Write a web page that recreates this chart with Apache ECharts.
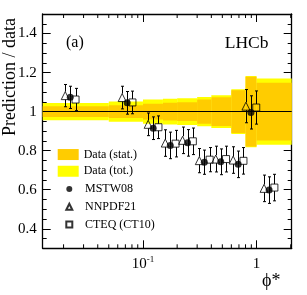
<!DOCTYPE html>
<html><head><meta charset="utf-8">
<script src="https://cdn.jsdelivr.net/npm/echarts@6/dist/echarts.min.js"></script>
<style>html,body{margin:0;padding:0;background:#fff}#c{width:307px;height:295px}</style>
</head><body><div id="c"></div>
<script>
// ---- data ----
const phiStar   = [0.0229, 0.0726, 0.123, 0.174, 0.247, 0.347, 0.484, 0.689, 0.893, 1.29];
const mstw08    = [1.073, 1.045, 0.915, 0.827, 0.840, 0.741, 0.743, 0.730, 0.996, 0.598];
const nnpdf21   = [1.082, 1.072, 0.935, 0.839, 0.853, 0.749, 0.757, 0.752, 1.028, 0.607];
const cteqCT10  = [1.062, 1.047, 0.920, 0.836, 0.848, 0.754, 0.757, 0.748, 1.021, 0.611];
const modelErr  = [0.057, 0.058, 0.058, 0.068, 0.068, 0.062, 0.066, 0.068, 0.085, 0.068];
const binEdges  = [0.0131, 0.05, 0.1, 0.15, 0.2, 0.3, 0.4, 0.6, 0.8, 1.0, 2.04];
const statErr   = [0.027, 0.033, 0.040, 0.045, 0.048, 0.062, 0.074, 0.110, 0.179, 0.148];
const totErr    = [0.044, 0.052, 0.062, 0.066, 0.068, 0.075, 0.084, 0.114, 0.182, 0.170];
const xMinorTicks = [0.02,0.03,0.04,0.05,0.06,0.07,0.08,0.09,0.2,0.3,0.4,0.5,0.6,0.7,0.8,0.9,2];
const xRange = [0.0131, 2.04];
const yRange = [0.3, 1.5];

const FONT = 'Liberation Serif';
const chart = echarts.init(document.getElementById('c'), null, {renderer:'canvas'});

function bandSeries(name, errs, color, z) {
  return {
    name, type:'custom', z, clip:true, silent:true,
    itemStyle:{color},
    encode:{x:[0,1], y:[2]},
    data: errs.map((e,i)=>[binEdges[i], binEdges[i+1], e]),
    renderItem(params, api){
      const p1 = api.coord([api.value(0), 1 + api.value(2)]);
      const p2 = api.coord([api.value(1), 1 - api.value(2)]);
      return {type:'rect', shape:{x:p1[0], y:p1[1], width:p2[0]-p1[0], height:p2[1]-p1[1]},
              style:{fill:color}};
    }
  };
}
function errSeries(name, vals, dx, gap) {
  return {
    name: name + ' err', type:'custom', z:6, silent:true,
    encode:{x:0, y:1},
    data: vals.map((v,i)=>[phiStar[i], v, modelErr[i]]),
    renderItem(params, api){
      const c = api.coord([api.value(0), api.value(1)]);
      const t = api.coord([api.value(0), api.value(1)+api.value(2)]);
      const b = api.coord([api.value(0), api.value(1)-api.value(2)]);
      const x = Math.round(c[0]+dx)+0.5;
      const st = {stroke:'#000', lineWidth:1};
      return {type:'group', children:[
        {type:'line', shape:{x1:x, y1:t[1], x2:x, y2:c[1]-gap}, style:st},
        {type:'line', shape:{x1:x, y1:c[1]+gap, x2:x, y2:b[1]}, style:st},
        {type:'line', shape:{x1:x-1.5, y1:t[1], x2:x+1.5, y2:t[1]}, style:st},
        {type:'line', shape:{x1:x-1.5, y1:b[1], x2:x+1.5, y2:b[1]}, style:st}
      ]};
    }
  };
}
function markerSeries(name, vals, symbol, size, dx, filled) {
  return {
    name, type:'scatter', z:7, silent:true,
    symbol, symbolSize:size, symbolOffset:[dx,0],
    itemStyle: filled ? {color:'#000'} : {color:'rgba(0,0,0,0)', borderColor:'#000', borderWidth:1},
    data: vals.map((v,i)=>[phiStar[i], v])
  };
}

const axisLine = {show:true, onZero:false, lineStyle:{color:'#000', width:1.3}};
const tickStyle = {color:'#000', width:1};

const option = {
  animation:false,
  grid:{left:42.7, right:15.3, top:14, bottom:46.7},
  xAxis:[{
    type:'log', logBase:10, min:xRange[0], max:xRange[1], position:'bottom',
    axisLine, splitLine:{show:false},
    axisTick:{show:true, inside:true, length:8, lineStyle:tickStyle},
    axisLabel:{
      margin:7, showMinLabel:false, showMaxLabel:false, color:'#000',
      formatter(v){
        const l = Math.log10(v);
        if (Math.abs(l) < 1e-6) return '{b|1}';
        if (Math.abs(l+1) < 1e-6) return '{b|10}{s|-1}';
        return '';
      },
      rich:{
        b:{fontFamily:FONT, fontSize:15, lineHeight:18, color:'#000'},
        s:{fontFamily:FONT, fontSize:9, lineHeight:18, verticalAlign:'top', color:'#000'}
      }
    }
  },{
    type:'log', logBase:10, min:xRange[0], max:xRange[1], position:'top',
    axisLine, splitLine:{show:false}, axisLabel:{show:false},
    axisTick:{show:true, inside:true, length:8, lineStyle:tickStyle}
  }],
  yAxis:[{
    type:'value', min:yRange[0], max:yRange[1], position:'left',
    axisLine, splitLine:{show:false},
    axisTick:{show:true, inside:true, length:8, lineStyle:tickStyle},
    minorTick:{show:true, splitNumber:4, length:4, lineStyle:tickStyle},
    axisLabel:{margin:6, showMinLabel:false, showMaxLabel:false, color:'#000',
      fontFamily:FONT, fontSize:15,
      formatter(v){ return (Math.round(v*10)/10).toString(); }}
  },{
    type:'value', min:yRange[0], max:yRange[1], position:'right',
    axisLine, splitLine:{show:false}, axisLabel:{show:false},
    axisTick:{show:true, inside:true, length:8, lineStyle:tickStyle},
    minorTick:{show:true, splitNumber:4, length:4, lineStyle:tickStyle}
  }],
  legend:[{
    orient:'vertical', left:57.7, top:146.2, padding:0, itemGap:0,
    itemWidth:21, itemHeight:11, selectedMode:false,
    textStyle:{fontFamily:FONT, fontSize:12, lineHeight:16.7, color:'#000'},
    data:[{name:'Data (stat.)', icon:'rect', itemStyle:{color:'#ffcc00'}},
          {name:'Data (tot.)', icon:'rect', itemStyle:{color:'#ffff00'}}]
  },{
    orient:'vertical', left:65.3, top:180.2, padding:0, itemGap:0,
    itemWidth:6, itemHeight:6, selectedMode:false,
    textStyle:{fontFamily:FONT, fontSize:12, lineHeight:17.7, color:'#000', padding:[0,0,0,7.7]},
    data:['MSTW08','NNPDF21','CTEQ (CT10)']
  }],
  graphic:[
    {type:'text', x:10.5, y:77, rotation:Math.PI/2,
     style:{text:'Prediction / data', font:'18px "Liberation Serif"', fill:'#000', align:'center', verticalAlign:'middle'}},
    {type:'text', x:66, y:43,
     style:{text:'(a)', font:'16px "Liberation Serif"', fill:'#000', align:'left', verticalAlign:'middle'}},
    {type:'text', x:268.5, y:43,
     style:{text:'LHCb', font:'17.5px "Liberation Serif"', fill:'#000', align:'right', verticalAlign:'middle'}},
    {type:'text', x:262, y:281,
     style:{text:'ϕ*', font:'18px "Liberation Serif"', fill:'#000', align:'left', verticalAlign:'middle'}}
  ],
  series:[
    bandSeries('Data (tot.)', totErr, '#ffff00', 1),
    bandSeries('Data (stat.)', statErr, '#ffcc00', 2),
    {
      name:'minor x ticks', type:'custom', z:8, silent:true, clip:false,
      encode:{x:0, y:1},
      data: xMinorTicks.map(v=>[v, 1]),
      renderItem(params, api){
        const cs = params.coordSys;
        const x = api.coord([api.value(0), 1])[0];
        const st = {stroke:'#000', lineWidth:1};
        return {type:'group', children:[
          {type:'line', shape:{x1:x, y1:cs.y+cs.height, x2:x, y2:cs.y+cs.height-4}, style:st},
          {type:'line', shape:{x1:x, y1:cs.y, x2:x, y2:cs.y+4}, style:st}
        ]};
      }
    },
    errSeries('NNPDF21', nnpdf21, -5, 4),
    errSeries('MSTW08', mstw08, 0, 0),
    errSeries('CTEQ (CT10)', cteqCT10, 5.3, 3.5),
    Object.assign(markerSeries('MSTW08', mstw08, 'circle', 7, 0, true), {
      markLine:{silent:true, symbol:['none','none'], label:{show:false},
        lineStyle:{color:'#000', width:1.2, type:'solid'}, data:[{yAxis:1}]}
    }),
    markerSeries('NNPDF21', nnpdf21, 'triangle', 8, -5, false),
    markerSeries('CTEQ (CT10)', cteqCT10, 'rect', 7, 5.3, false)
  ]
};
chart.setOption(option);
</script></body></html>
